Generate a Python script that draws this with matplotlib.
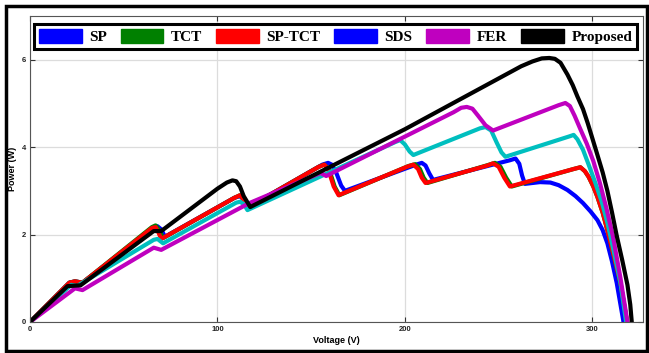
import matplotlib.pyplot as plt
from matplotlib.patches import Patch, Rectangle

# PV curves (voltage V, power W)
sp_v = [0, 21, 24, 28, 66, 68, 70, 72, 109, 112, 114, 116.5, 156, 159, 161, 163.5, 166, 168,
        206, 209, 211, 213, 215, 256, 259, 261, 262.5, 264, 268, 272, 277.6, 282, 286.7, 291,
        295, 299, 302.7, 305.5, 308, 310.5, 313, 316.6]
sp_p = [0, 0.9, 0.93, 0.9, 2.17, 2.19, 2.12, 1.95, 2.84, 2.88, 2.8, 2.63, 3.6, 3.64, 3.6, 3.4,
        3.12, 3.0, 3.6, 3.64, 3.58, 3.4, 3.25, 3.7, 3.74, 3.62, 3.35, 3.16, 3.18, 3.2, 3.19, 3.13,
        3.02, 2.88, 2.72, 2.53, 2.33, 2.1, 1.8, 1.38, 0.89, 0]

tct_v = [0, 21, 24, 28, 65, 67, 69, 71, 109, 112, 114, 116.5, 154, 157, 159.5, 162.5, 165,
         202, 205.5, 208, 210, 212, 245, 248, 251, 254, 257, 290, 293.6, 296, 298, 300.5, 302.7,
         305.5, 308, 311.5, 315, 318.5]
tct_p = [0, 0.9, 0.93, 0.9, 2.17, 2.21, 2.1, 1.92, 2.84, 2.9, 2.8, 2.63, 3.55, 3.6, 3.5, 3.1, 2.9,
         3.57, 3.61, 3.5, 3.3, 3.18, 3.6, 3.64, 3.55, 3.3, 3.1, 3.5, 3.54, 3.45, 3.32, 3.1, 2.86,
         2.5, 2.1, 1.5, 0.89, 0]

sptct_v = [0, 21, 24, 28, 65, 67, 68.5, 70, 109, 112, 114, 116.5, 154, 157, 159, 162, 164.6,
           201, 204.5, 207, 209, 211, 244, 247, 250, 253, 256, 290, 293.6, 296, 298, 300.5, 302.7,
           305.5, 308, 311.5, 315, 318.5]
sptct_p = [0, 0.9, 0.93, 0.9, 2.15, 2.17, 2.05, 1.9, 2.84, 2.9, 2.8, 2.63, 3.55, 3.6, 3.5, 3.1, 2.9,
           3.55, 3.6, 3.5, 3.3, 3.18, 3.58, 3.63, 3.55, 3.3, 3.1, 3.5, 3.54, 3.45, 3.32, 3.1, 2.86,
           2.5, 2.1, 1.5, 0.89, 0]

sds_v = [0, 22, 25, 66, 68, 71, 110, 112, 114, 116, 195, 197.5, 200, 202.5, 204.5, 240, 243, 246,
         249, 251.5, 253.6, 288, 290, 292, 295, 298, 301.6, 305, 308, 311.5, 315, 318]
sds_p = [0, 0.85, 0.82, 1.88, 1.9, 1.8, 2.73, 2.75, 2.7, 2.56, 4.12, 4.16, 4.06, 3.9, 3.82, 4.43,
         4.46, 4.38, 4.1, 3.88, 3.78, 4.25, 4.28, 4.18, 3.94, 3.6, 3.18, 2.75, 2.27, 1.6, 0.89, 0]

fer_v = [0, 24, 28, 66, 70, 117, 155, 158, 226, 230, 233, 236, 239, 243, 247, 282, 285.6, 288,
         290.5, 293.5, 297, 300.5, 304, 307.5, 311, 315, 318.7]
fer_p = [0, 0.77, 0.73, 1.7, 1.65, 2.72, 3.41, 3.34, 4.8, 4.9, 4.92, 4.88, 4.72, 4.5, 4.38, 4.96,
         5.01, 4.94, 4.72, 4.42, 4.08, 3.68, 3.18, 2.6, 1.95, 1.0, 0]

prop_v = [0, 20, 27, 66, 70, 100, 105, 108, 110, 112, 114, 117.5, 200, 262, 268, 273, 277, 280,
          283, 286.7, 289.5, 292, 295, 297.5, 300, 302.7, 305.5, 308, 310.5, 313, 316, 318.7,
          320.2, 321]
prop_p = [0, 0.82, 0.84, 2.08, 2.08, 3.05, 3.19, 3.24, 3.22, 3.1, 2.88, 2.63, 4.41, 5.85, 5.96,
          6.03, 6.04, 6.02, 5.93, 5.66, 5.42, 5.16, 4.87, 4.55, 4.2, 3.82, 3.42, 3.0, 2.5, 1.97,
          1.4, 0.85, 0.4, 0]

series = [
    ("SP", sp_v, sp_p, "#0000ff"),
    ("TCT", tct_v, tct_p, "#008000"),
    ("SP-TCT", sptct_v, sptct_p, "#ff0000"),
    ("SDS", sds_v, sds_p, "#00bfbf"),
    ("FER", fer_v, fer_p, "#bf00bf"),
    ("Proposed", prop_v, prop_p, "#000000"),
]
# legend swatches as they appear in the figure (SDS drawn blue there)
legend_colors = ["#0000ff", "#008000", "#ff0000", "#0000ff", "#bf00bf", "#000000"]

narrow = ["Liberation Sans Narrow", "Liberation Sans", "DejaVu Sans"]

fig = plt.figure(figsize=(6.49, 3.53), dpi=100)
ax = fig.add_axes([30 / 649, 1 - 322 / 353, 613 / 649, 306 / 353])

for name, v, p, c in series:
    ax.plot(v, p, color=c, lw=3, solid_joinstyle="round", solid_capstyle="round")

ax.set_xlim(0, 327)
ax.set_ylim(0, 7)
ax.set_xticks([0, 100, 200, 300])
ax.set_yticks([0, 2, 4, 6])
ax.grid(True, color="#dcdcdc", lw=0.9)
ax.set_axisbelow(True)
ax.tick_params(direction="in", length=3.5, width=0.8, top=True, right=True,
               labelsize=5.5, pad=3, colors="#333333", labelcolor="#222222")
for lab in ax.get_xticklabels() + ax.get_yticklabels():
    lab.set_family(narrow)
    lab.set_fontweight("bold")
for s in ax.spines.values():
    s.set_color("#555555")
    s.set_linewidth(0.8)

ax.set_xlabel("Voltage (V)", fontsize=6.5, family=narrow, fontweight="bold", labelpad=2)
ax.set_ylabel("Power (W)", fontsize=6.5, family=["Liberation Sans", "DejaVu Sans"],
              fontweight="bold", labelpad=3)

handles = [Patch(facecolor=c, edgecolor=c) for c in legend_colors]
leg = fig.legend(handles, [s[0] for s in series], loc="center",
                 bbox_to_anchor=(335.5 / 649, 1 - 36.5 / 353), ncol=6,
                 prop={"family": ["Liberation Serif", "DejaVu Serif"], "weight": "bold", "size": 11},
                 handlelength=2.8, handleheight=1.0, handletextpad=0.5, columnspacing=0.9,
                 borderpad=0.3, fancybox=False, framealpha=1, edgecolor="black")
leg.get_frame().set_linewidth(2.2)

fig.patches.append(Rectangle((6 / 649, 1 - 351 / 353), 641 / 649, 345 / 353,
                             transform=fig.transFigure, fill=False, lw=2.5, ec="black"))

fig.savefig("out.png", dpi=100)
